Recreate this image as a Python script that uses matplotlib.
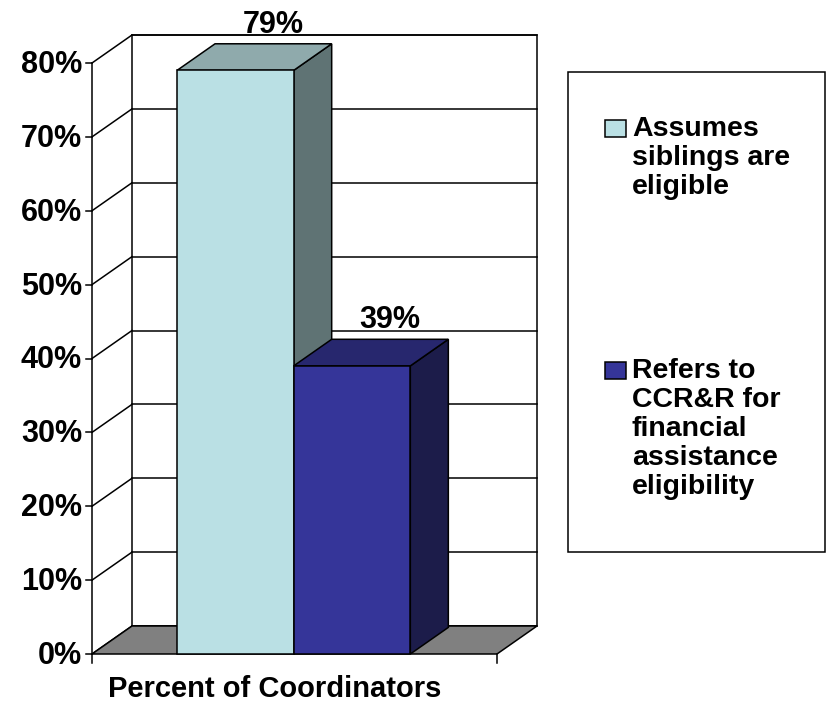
import matplotlib.pyplot as plt
from matplotlib.patches import Polygon, Rectangle

plt.rcParams['font.family'] = ['Liberation Sans', 'DejaVu Sans']
plt.rcParams['font.weight'] = 'bold'

# data
category = 'Percent of Coordinators'
series = ['Assumes\nsiblings are\neligible',
          'Refers to\nCCR&R for\nfinancial\nassistance\neligibility']
values = [79, 39]
yticks = [0, 10, 20, 30, 40, 50, 60, 70, 80]

# colours of the three visible faces of each bar
front_colors = ['#BAE0E4', '#353599']
top_colors = ['#8FAAAC', '#27276E']
side_colors = ['#5F7374', '#1C1C4A']
floor_color = '#808080'

W, H = 827, 703
fig = plt.figure(figsize=(W / 100, H / 100), dpi=100)
# front plane of the 3d box: x 0..1, y 0..80
ax = fig.add_axes([92 / W, (H - 654) / H, 405 / W, 591 / H])
ax.set_xlim(0, 1)
ax.set_ylim(0, 80)
ax.axis('off')

px_x = 1 / 405          # one pixel in x data units
px_y = 80 / 591         # one pixel in y data units
DX, DY = 40 * px_x, 28 * px_y   # depth offset of the back wall
LW = 1.1


def face(pts, fc, z):
    ax.add_patch(Polygon(pts, closed=True, fc=fc, ec='black', lw=LW,
                         zorder=z, clip_on=False, joinstyle='miter'))


def line(xs, ys, z=2):
    ax.plot(xs, ys, color='black', lw=LW, zorder=z, clip_on=False,
            solid_capstyle='projecting')


# back wall
face([(DX, DY), (1 + DX, DY), (1 + DX, 80 + DY), (DX, 80 + DY)], 'white', 1)
for t in yticks:
    line([DX, 1 + DX], [t + DY, t + DY])      # gridline on back wall
    line([0, DX], [t, t + DY])                # line on side wall
    line([-6 * px_x, 0], [t, t])              # tick mark
    ax.text(-10 * px_x, t - 2 * px_y, f'{t}%', ha='right', va='center',
            fontsize=22, fontweight='bold')
line([0, 0], [0, 80])

# floor
face([(0, 0), (1, 0), (1 + DX, DY), (DX, DY)], floor_color, 3)
line([0, 0], [0, -9 * px_y], 3)
line([1, 1], [0, -9 * px_y], 3)

# bars
bar_w = 0.288
x_start = 0.5 - bar_w - 0.002
bx, by = 0.95 * DX, 0.95 * DY
for i, v in enumerate(values):
    x0 = x_start + i * bar_w
    x1 = x0 + bar_w
    z = 4 + i
    face([(x1, 0), (x1 + bx, by), (x1 + bx, v + by), (x1, v)], side_colors[i], z)
    face([(x0, v), (x1, v), (x1 + bx, v + by), (x0 + bx, v + by)], top_colors[i], z)
    face([(x0, 0), (x1, 0), (x1, v), (x0, v)], front_colors[i], z)
    ax.text((x0 + x1) / 2 + bx, v + by + 11 * px_y, f'{v}%',
            ha='center', va='baseline', fontsize=22, fontweight='bold', zorder=10)

fig.text(275 / W, 1 - 689 / H, category, ha='center', va='center',
         fontsize=21, fontweight='bold')

# legend box
fig.patches.append(Rectangle((568 / W, 1 - 552 / H), 257 / W, 480 / H,
                             transform=fig.transFigure, fc='white', ec='black', lw=LW))
sw_top = [120, 362]
for i, lab in enumerate(series):
    fig.patches.append(Rectangle((605 / W, 1 - (sw_top[i] + 17) / H), 21 / W, 17 / H,
                                 transform=fig.transFigure, fc=front_colors[i],
                                 ec='black', lw=LW))
    fig.text(632 / W, 1 - (sw_top[i] - 4) / H, lab, ha='left', va='top',
             fontsize=20.5, fontweight='bold', linespacing=1.15)

fig.savefig('out.png', dpi=100)
